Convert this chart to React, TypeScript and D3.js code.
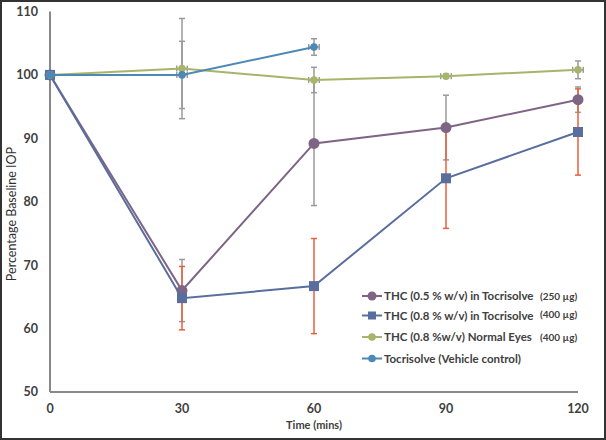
import React from "react";
import * as d3 from "d3";

const times = [0, 30, 60, 90, 120];
const thc05 = [100, 66, 89.2, 91.7, 96.1];
const thc05Err = [0, 4.9, 9.8, 5.1, 2];
const thc08 = [100, 64.8, 66.7, 83.7, 91];
const thc08Err = [0, 5, 7.5, 7.9, 6.8];
const normal = [100, 101, 99.2, 99.8, 100.8];
const normalErr = [0, 7.9, 2, 0.3, 1.4];
const vehicleTimes = [0, 30, 60];
const vehicle = [100, 100, 104.4];
const vehicleErr = [0, 5.3, 1.3];
const xTicks = [0, 30, 60, 90, 120];
const yTicks = [50, 60, 70, 80, 90, 100, 110];

const W = 606, H = 440;
const FONT = "Lato, 'Open Sans', sans-serif";

export default function App() {
  const x = d3.scaleLinear().domain([0, 120]).range([50, 578]);
  const y = d3.scaleLinear().domain([50, 110]).range([392, 11.5]);
  const line = d3.line<[number, number]>().x(d => x(d[0])).y(d => y(d[1]));

  const series = [
    { name: "thc05", t: times, v: thc05, e: thc05Err, color: "#7E6485", errColor: "#9a9a9a", marker: "circle", size: 5.5, hErr: 0 },
    { name: "thc08", t: times, v: thc08, e: thc08Err, color: "#5A6E9E", errColor: "#E8603C", marker: "square", size: 5, hErr: 0 },
    { name: "normal", t: times, v: normal, e: normalErr, color: "#A6B46C", errColor: "#9a9a9a", marker: "circle", size: 3.8, hErr: 1.2 },
    { name: "vehicle", t: vehicleTimes, v: vehicle, e: vehicleErr, color: "#4E89B6", errColor: "#9a9a9a", marker: "circle", size: 3.8, hErr: 1.2 },
  ];

  const legend = [
    { label: "THC (0.5 % w/v) in Tocrisolve", extra: "(250 µg)", s: series[0] },
    { label: "THC (0.8 % w/v) in Tocrisolve", extra: "(400 µg)", s: series[1] },
    { label: "THC (0.8 %w/v) Normal Eyes", extra: "(400 µg)", s: series[2] },
    { label: "Tocrisolve (Vehicle control)", extra: "", s: series[3] },
  ];
  const legendY = [296, 315.5, 337, 358.5];

  const marker = (s: any, cx: number, cy: number, key: string) =>
    s.marker === "square" ? (
      <rect key={key} x={cx - s.size} y={cy - s.size} width={s.size * 2} height={s.size * 2} fill={s.color} />
    ) : (
      <circle key={key} cx={cx} cy={cy} r={s.size} fill={s.color} />
    );

  return (
    <div style={{ position: "fixed", left: 0, top: 0 }}>
      <svg width={W} height={H} style={{ display: "block" }}>
        <rect x={0} y={0} width={W} height={H} fill="#fff" />
        <rect x={1} y={1} width={W - 2} height={H - 2} fill="none" stroke="#333" strokeWidth={2} />

        {/* axes */}
        <line x1={x(0)} x2={x(0)} y1={y(110)} y2={y(50)} stroke="#888" strokeWidth={2} />
        <line x1={x(0)} x2={x(120)} y1={y(50)} y2={y(50)} stroke="#888" strokeWidth={2} />
        {yTicks.map(t => (
          <text key={t} x={38} y={y(t)} dy="0.35em" textAnchor="end" fontFamily={FONT} fontWeight="bold" fontSize={12.5} fill="#404040">{t}</text>
        ))}
        {xTicks.map(t => (
          <text key={t} x={x(t)} y={409} dy="0.35em" textAnchor="middle" fontFamily={FONT} fontWeight="bold" fontSize={12.5} fill="#404040">{t}</text>
        ))}
        <text x={314} y={425} dy="0.35em" textAnchor="middle" fontFamily={FONT} fontWeight="bold" fontSize={11} fill="#404040">Time (mins)</text>
        <text transform={`translate(12,214) rotate(-90)`} textAnchor="middle" dy="0.35em" fontFamily={FONT} fontSize={12.5} fill="#303030">Percentage Baseline IOP</text>

        {/* error bars */}
        {series.map(s => (
          <g key={s.name + "err"}>
            {s.t.map((t, i) => {
              if (!s.e[i]) return null;
              const cx = x(t);
              const y1 = y(s.v[i] + s.e[i]);
              const y2 = y(s.v[i] - s.e[i]);
              const cy = y(s.v[i]);
              return (
                <g key={i} stroke={s.errColor} strokeWidth={1.5}>
                  <line x1={cx} x2={cx} y1={y1} y2={y2} />
                  <line x1={cx - 3} x2={cx + 3} y1={y1} y2={y1} />
                  <line x1={cx - 3} x2={cx + 3} y1={y2} y2={y2} />
                  {s.hErr > 0 && (
                    <g>
                      <line x1={x(t - s.hErr)} x2={x(t + s.hErr)} y1={cy} y2={cy} />
                      <line x1={x(t - s.hErr)} x2={x(t - s.hErr)} y1={cy - 3} y2={cy + 3} />
                      <line x1={x(t + s.hErr)} x2={x(t + s.hErr)} y1={cy - 3} y2={cy + 3} />
                    </g>
                  )}
                </g>
              );
            })}
          </g>
        ))}

        {/* lines and markers */}
        {series.map(s => (
          <g key={s.name}>
            <path d={line(s.t.map((t, i) => [t, s.v[i]] as [number, number])) || ""} fill="none" stroke={s.color} strokeWidth={2} />
            {s.t.map((t, i) => marker(s, x(t), y(s.v[i]), s.name + i))}
          </g>
        ))}

        {/* legend */}
        {legend.map((l, i) => (
          <g key={i}>
            <line x1={362} x2={382} y1={legendY[i]} y2={legendY[i]} stroke={l.s.color} strokeWidth={2} />
            {marker({ ...l.s, size: l.s.marker === "square" ? 4 : Math.min(l.s.size, 4.5) }, 372, legendY[i], "lg" + i)}
            <text x={384} y={legendY[i]} dy="0.35em" fontFamily={FONT} fontWeight="bold" fontSize={11.5} fill="#404040">{l.label}</text>
            {l.extra && (
              <text x={540} y={legendY[i] - (i === 1 ? 1 : 0)} dy="0.35em" fontFamily={FONT} fontWeight="bold" fontSize={10} fill="#404040">{l.extra}</text>
            )}
          </g>
        ))}
      </svg>
    </div>
  );
}
